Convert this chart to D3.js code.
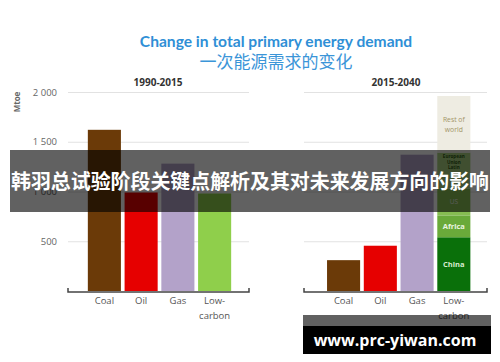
<!DOCTYPE html>
<html><head><meta charset="utf-8">
<script src="https://cdn.jsdelivr.net/npm/d3@7/dist/d3.min.js"></script>
<style>body{margin:0;background:#fff}svg{display:block}</style>
</head><body>
<svg id="c" width="500" height="362"></svg>
<script>
const categories = ["Coal", "Oil", "Gas", "Low-carbon"];
const catLabels = [["Coal"], ["Oil"], ["Gas"], ["Low-", "carbon"]];
const values1990 = [1620, 990, 1280, 980];
const values2015 = [310, 455, 1370, null];
const lowCarbonRegions = ["China", "Africa", "US", "European Union, Latin", "Rest of world"];
const lowCarbonLabels = [["China"], ["Africa"], ["US"], ["European", "Union", "Latin"], ["Rest of", "world"]];
const lowCarbonValues = [540, 220, 270, 360, 570];
const yTicks = [500, 1000, 1500, 2000];
const yTickLabels = ["500", "1 000", "1 500", "2 000"];
const panelTitles = ["1990-2015", "2015-2040"];

const barColors = ["#6b3a08", "#e60000", "#b3a2c9", "#8fcf4b"];
const regionColors = ["#0a700a", "#6aaa3a", "#86bd52", "#a9cf7e", "#eeece2"];
const regionText = ["#d8ecd0", "#eaf5e0", "#e8efe0", "#2d5a14", "#a39568"];
const regionFont = [7.5, 7.5, 6.5, 4.6, 6.8];
const regionLineGap = [0, 0, 0, 5.4, 10];

const svg = d3.select("#c");
const y = d3.scaleLinear().domain([0, 2000]).range([291, 92]);

svg.append("text").attr("x", 276).attr("y", 47).attr("text-anchor", "middle")
  .attr("font-family", "Lato, 'Open Sans', sans-serif").attr("font-weight", "bold")
  .attr("font-size", 15.6).attr("fill", "#2f8fd6").text("Change in total primary energy demand");
svg.append("text").attr("x", 276).attr("y", 68).attr("text-anchor", "middle")
  .attr("font-family", "'Noto Sans CJK SC', sans-serif")
  .attr("font-size", 17).attr("fill", "#3b95d8").text("一次能源需求的变化");

svg.append("text").attr("transform", "translate(20,102) rotate(-90)").attr("text-anchor", "middle")
  .attr("font-family", "'Open Sans', sans-serif").attr("font-weight", "bold")
  .attr("font-size", 8).attr("fill", "#666").text("Mtoe");

const axisY = d3.axisLeft(y).tickValues(yTicks).tickFormat((d, i) => yTickLabels[i]).tickSize(0).tickPadding(0);
const ga = svg.append("g").attr("transform", "translate(57,0)").call(axisY);
ga.select(".domain").remove();
ga.selectAll("text").attr("font-family", "'Open Sans', sans-serif").attr("font-size", 9.5).attr("fill", "#666");

const panels = [
  {x0: 68, x1: 249, r: [86, 233], vals: values1990, title: panelTitles[0], tx: 158},
  {x0: 304, x1: 487, r: [325.2, 472.2], vals: values2015, title: panelTitles[1], tx: 396}
];

panels.forEach((p, pi) => {
  const g = svg.append("g");
  g.append("text").attr("x", p.tx).attr("y", 86).attr("text-anchor", "middle")
    .attr("font-family", "'Open Sans', sans-serif").attr("font-weight", "bold")
    .attr("font-size", 10).attr("fill", "#333").text(p.title);
  const grid = d3.axisLeft(y).tickValues(yTicks).tickSize(-(p.x1 - p.x0)).tickFormat("");
  const gg = g.append("g").attr("transform", `translate(${p.x0},0)`).call(grid);
  gg.select(".domain").remove();
  gg.selectAll("line").attr("stroke", "#e2e2e2").attr("stroke-width", 1);

  const x = d3.scaleBand().domain(categories).range(p.r).paddingInner(0.1).paddingOuter(0.05);
  categories.forEach((c, i) => {
    if (p.vals[i] != null) {
      g.append("rect").attr("x", x(c)).attr("width", x.bandwidth())
        .attr("y", y(p.vals[i])).attr("height", y(0) - y(p.vals[i])).attr("fill", barColors[i]);
    } else {
      const stack = d3.cumsum(lowCarbonValues);
      lowCarbonValues.forEach((v, k) => {
        const top = stack[k], bot = stack[k] - v;
        g.append("rect").attr("x", x(c)).attr("width", x.bandwidth())
          .attr("y", y(top)).attr("height", y(bot) - y(top)).attr("fill", regionColors[k]);
        const lines = lowCarbonLabels[k];
        const fs = regionFont[k], gap = regionLineGap[k];
        const first = k === 3 ? y(top) + 5.5 : (y(top) + y(bot)) / 2 - (lines.length - 1) * gap / 2 + fs * 0.35;
        lines.forEach((t, li) => {
          g.append("text").attr("x", x(c) + x.bandwidth() / 2).attr("y", first + li * gap)
            .attr("text-anchor", "middle").attr("font-family", "'Open Sans', sans-serif")
            .attr("font-weight", k < 2 || k === 3 ? "bold" : "normal")
            .attr("font-size", fs).attr("fill", regionText[k]).text(t);
        });
      });
    }
    catLabels[i].forEach((t, li) => {
      g.append("text").attr("x", x(c) + x.bandwidth() / 2).attr("y", 304 + li * 15)
        .attr("text-anchor", "middle").attr("font-family", "'Open Sans', sans-serif")
        .attr("font-size", 9.5).attr("fill", "#555").text(t);
    });
  });
  g.append("path").attr("d", `M${p.x0},${y(0) - 3}V${y(0) + 1}H${p.x1}V${y(0) - 3}`)
    .attr("fill", "none").attr("stroke", "#444").attr("stroke-width", 1.5);
});

// overlay banner
svg.append("rect").attr("x", 10).attr("y", 150).attr("width", 480).attr("height", 62)
  .attr("fill", "#000").attr("fill-opacity", 0.62);
svg.append("text").attr("x", 250).attr("y", 189).attr("text-anchor", "middle")
  .attr("font-family", "'Noto Sans CJK SC', sans-serif").attr("font-weight", "bold")
  .attr("font-size", 20).attr("fill", "#fff").attr("textLength", 478).attr("lengthAdjust", "spacingAndGlyphs")
  .text("韩羽总试验阶段关键点解析及其对未来发展方向的影响");

svg.append("rect").attr("x", 303).attr("y", 315).attr("width", 188).attr("height", 11)
  .attr("fill", "#000").attr("fill-opacity", 0.62);
svg.append("rect").attr("x", 303).attr("y", 326).attr("width", 188).attr("height", 28).attr("fill", "#000");
svg.append("text").attr("x", 395).attr("y", 346).attr("text-anchor", "middle")
  .attr("font-family", "'Open Sans', sans-serif").attr("font-weight", "bold")
  .attr("font-size", 16).attr("fill", "#fff").text("www.prc-yiwan.com");
</script>
</body></html>
